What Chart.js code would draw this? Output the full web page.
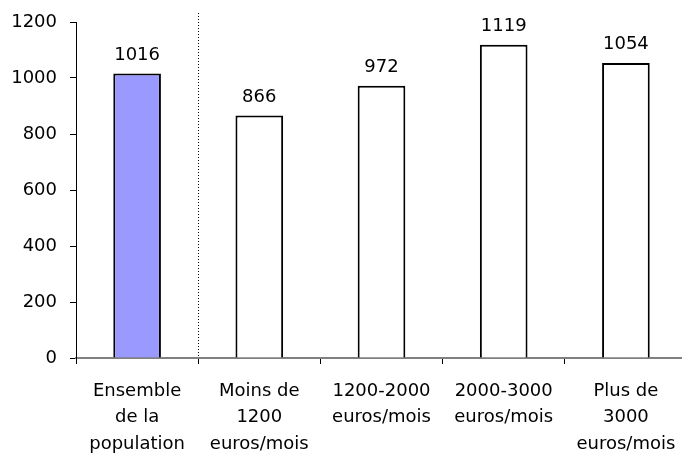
<!DOCTYPE html>
<html>
<head>
<meta charset="utf-8">
<script src="https://cdn.jsdelivr.net/npm/chart.js@4"></script>
<style>
  html, body { margin: 0; padding: 0; background: #fff; overflow: hidden; }
  #wrap { width: 688px; height: 456px; }
</style>
</head>
<body>
<div id="wrap"><canvas id="chart" width="688" height="456"></canvas></div>
<script>
// Data
const categories = [
    ['Ensemble', 'de la', 'population'],
    ['Moins de', '1200', 'euros/mois'],
    ['1200-2000', 'euros/mois'],
    ['2000-3000', 'euros/mois'],
    ['Plus de', '3000', 'euros/mois']
];
const values = [1016, 866, 972, 1119, 1054];
const barColors = ['#9999ff', '#ffffff', '#ffffff', '#ffffff', '#ffffff'];
const yTicks = [0, 200, 400, 600, 800, 1000, 1200];

const FONT = "'DejaVu Sans', sans-serif";

// Value labels above bars
const valueLabels = {
    id: 'valueLabels',
    afterDatasetsDraw(chart) {
        const c = chart.ctx;
        const meta = chart.getDatasetMeta(0);
        c.save();
        c.font = '18px ' + FONT;
        c.fillStyle = '#000';
        c.textAlign = 'center';
        c.textBaseline = 'alphabetic';
        meta.data.forEach((bar, i) => {
            c.fillText(values[i], bar.x, bar.y - 14);
        });
        c.restore();
    }
};

// Dotted separator after the first category
const separator = {
    id: 'separator',
    afterDatasetsDraw(chart) {
        const x = chart.scales.x;
        const xp = Math.round((x.getPixelForValue(0) + x.getPixelForValue(1)) / 2) + 0.5;
        const c = chart.ctx;
        c.save();
        c.strokeStyle = '#000';
        c.lineWidth = 1;
        c.setLineDash([1, 2]);
        c.beginPath();
        c.moveTo(xp, chart.chartArea.top - 9);
        c.lineTo(xp, chart.chartArea.bottom);
        c.stroke();
        c.restore();
    }
};

// keep the plot area where the reference has it
const fixPadding = (s) => {
    s.paddingTop = 0;
    s.paddingBottom = 0;
    s.paddingLeft = 0;
    s.paddingRight = 0;
};

new Chart(document.getElementById('chart').getContext('2d'), {
    type: 'bar',
    data: {
        labels: categories,
        datasets: [{
            data: values,
            backgroundColor: barColors,
            borderColor: '#000',
            borderWidth: 2,
            barPercentage: 0.39,
            categoryPercentage: 1
        }]
    },
    options: {
        responsive: false,
        animation: false,
        layout: { padding: { top: 22, right: 1, left: 0, bottom: 0 } },
        plugins: {
            legend: { display: false },
            tooltip: { enabled: false }
        },
        scales: {
            x: {
                afterFit: (s) => { s.height = 98; fixPadding(s); },
                border: { display: true, color: '#808080', width: 2 },
                grid: {
                    offset: true,
                    drawOnChartArea: false,
                    drawTicks: true,
                    tickLength: 6,
                    color: '#000'
                },
                ticks: {
                    color: '#000',
                    padding: 14,
                    maxRotation: 0,
                    autoSkip: false,
                    font: { family: FONT, size: 18, lineHeight: 1.47 }
                }
            },
            y: {
                min: 0,
                max: 1200,
                afterFit: (s) => { s.width = 76; fixPadding(s); },
                afterBuildTicks: (s) => { s.ticks = yTicks.map(v => ({ value: v })); },
                border: { display: true, color: '#000', width: 1 },
                grid: {
                    drawOnChartArea: false,
                    drawTicks: true,
                    tickLength: 6,
                    color: '#000'
                },
                ticks: {
                    color: '#000',
                    padding: 13,
                    callback: (v) => String(v),
                    font: { family: FONT, size: 18 }
                }
            }
        }
    },
    plugins: [valueLabels, separator]
});
</script>
</body>
</html>
